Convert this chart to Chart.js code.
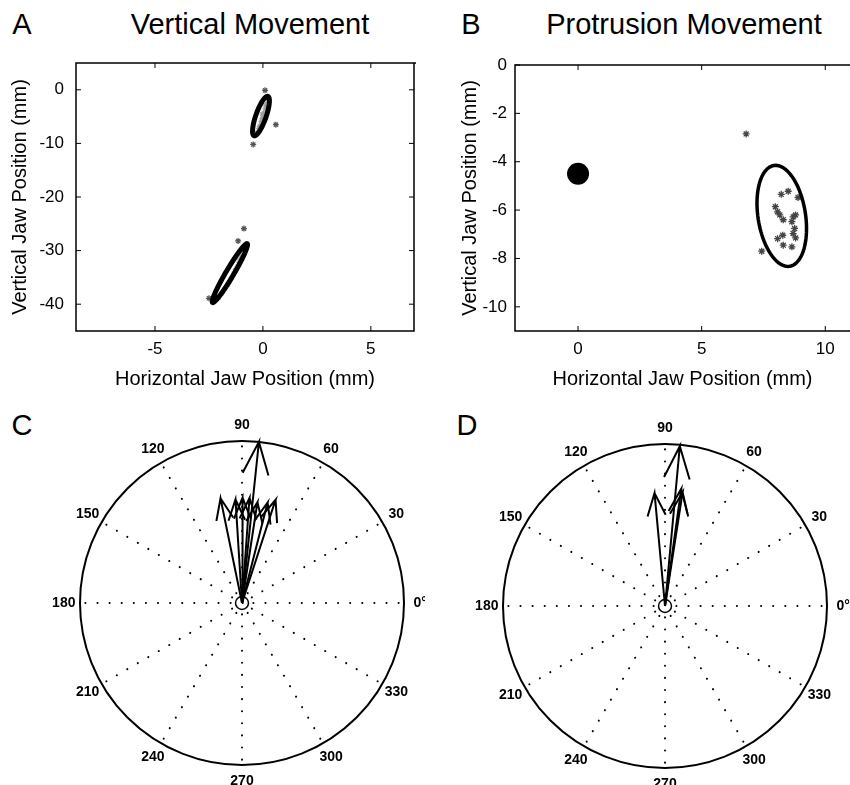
<!DOCTYPE html>
<html>
<head>
<meta charset="utf-8">
<script src="https://cdn.jsdelivr.net/npm/chart.js@4.4.0/dist/chart.umd.min.js"></script>
<style>
body { margin: 0; background: #fff; overflow: hidden; }
#fig { position: relative; width: 850px; height: 785px; overflow: hidden; font-family: "Liberation Sans", Arial, sans-serif; color: #000; }
canvas { position: absolute; }
.txt { position: absolute; transform: translate(-50%, -50%); white-space: nowrap; line-height: 1; font-size: 29px; }
</style>
</head>
<body>
<div id="fig">
  <div class="txt" style="left:22px;top:24px">A</div>
  <div class="txt" style="left:250px;top:24px">Vertical Movement</div>
  <div class="txt" style="left:471px;top:24px">B</div>
  <div class="txt" style="left:684px;top:24px">Protrusion Movement</div>
  <div class="txt" style="left:22px;top:425px">C</div>
  <div class="txt" style="left:467px;top:425px">D</div>
  <canvas id="chartA" width="425" height="350" style="left:0;top:50px"></canvas>
  <!-- B is a bit wider than its half: the big dot makes chart.js keep 11px free on the right -->
  <canvas id="chartB" width="436" height="350" style="left:425px;top:50px"></canvas>
  <canvas id="chartC" width="425" height="385" style="left:0;top:400px"></canvas>
  <canvas id="chartD" width="425" height="385" style="left:425px;top:400px"></canvas>
</div>
<script>
const FONT = '"Liberation Sans", Arial, sans-serif';

// A: vertical movement, jaw positions (mm)
const aInnerX = [0.22, 0.18, 0.12, 0.08, 0.03, -0.02, -0.06, -0.1, -0.15, -0.2, -0.26, -0.3, 0.14, -0.04, -0.17];
const aInnerY = [-1.8, -2.6, -3.0, -3.6, -4.3, -4.9, -5.4, -5.9, -6.6, -7.2, -7.8, -8.3, -2.9, -4.5, -6.9];
const aInner2X = [-0.9, -1.0, -1.08, -1.2, -1.3, -1.35, -1.45, -1.55, -1.62, -1.75, -1.9, -2.05, -1.12, -1.5];
const aInner2Y = [-30.0, -31.0, -31.6, -33.0, -33.6, -34.2, -35.0, -35.8, -36.4, -37.1, -38.0, -38.8, -32.2, -35.4];
const aOutX = [0.1, 0.6, -0.45, -0.88, -1.15, -2.5];
const aOutY = [-0.1, -6.5, -10.2, -25.9, -28.2, -38.9];
// A ellipses: centre, half major axis, half width along x
const aEllCx = [-0.09, -1.53];
const aEllCy = [-4.9, -34.2];
const aEllDx = [0.3, 0.79];
const aEllDy = [3.68, 5.5];
const aEllW = [0.25, 0.21];
const aTicksX = [-5, 0, 5];
const aTicksY = [0, -10, -20, -30, -40];

// B: protrusion movement
const bRefX = [0];
const bRefY = [-4.5];
const bPtsX = [8.22, 8.5, 8.9, 7.98, 8.07, 8.16, 8.3, 8.7, 8.8, 8.65, 8.76, 8.28, 8.07, 8.3, 8.7, 8.8, 8.65, 7.43, 6.8];
const bPtsY = [-5.35, -5.22, -5.48, -5.86, -6.07, -6.2, -6.4, -6.28, -6.2, -6.48, -6.76, -7.04, -7.18, -7.45, -6.97, -7.15, -7.52, -7.7, -2.85];
const bEllCx = [8.24];
const bEllCy = [-6.24];
const bEllDx = [-0.25];
const bEllDy = [2.09];
const bEllW = [0.97];
const bTicksX = [0, 5, 10];
const bTicksY = [0, -2, -4, -6, -8, -10];

// C, D: compass plots (angle in degrees, normalised length)
const cAngles = [84, 101.6, 93.6, 89.7, 85.9, 81.3, 75.7, 72];
const cLengths = [1.0, 0.66, 0.64, 0.65, 0.65, 0.63, 0.64, 0.67];
const dAngles = [84.7, 95.3, 82.1, 81.2];
const dLengths = [0.99, 0.7, 0.73, 0.71];
const polarAngles = [0, 30, 60, 90, 120, 150, 180, 210, 240, 270, 300, 330];
const polarLabels = ['0°', '30', '60', '90', '120', '150', '180', '210', '240', '270', '300', '330'];

function toPoints(xs, ys) {
  return xs.map((x, i) => ({ x: x, y: ys[i] }));
}

// box with inward ticks, matlab style
function framePlugin(openRight) {
  return {
    id: 'frame',
    afterDatasetsDraw(chart) {
      const { ctx, chartArea: a, scales: { x, y } } = chart;
      ctx.save();
      ctx.strokeStyle = '#000';
      ctx.lineWidth = 1.5;
      ctx.beginPath();
      ctx.moveTo(a.right + 2, a.top);
      ctx.lineTo(a.left, a.top);
      ctx.lineTo(a.left, a.bottom);
      ctx.lineTo(a.right, a.bottom);
      if (!openRight) ctx.lineTo(a.right, a.top);
      ctx.stroke();
      ctx.lineWidth = 1;
      ctx.beginPath();
      x.ticks.forEach(t => {
        const px = x.getPixelForValue(t.value);
        ctx.moveTo(px, a.bottom); ctx.lineTo(px, a.bottom - 5);
        ctx.moveTo(px, a.top); ctx.lineTo(px, a.top + 5);
      });
      y.ticks.forEach(t => {
        const py = y.getPixelForValue(t.value);
        ctx.moveTo(a.left, py); ctx.lineTo(a.left + 5, py);
        if (!openRight) { ctx.moveTo(a.right, py); ctx.lineTo(a.right - 5, py); }
      });
      ctx.stroke();
      ctx.restore();
    }
  };
}

function ellipsePlugin(cxs, cys, dxs, dys, ws, lw) {
  return {
    id: 'ellipses',
    afterDatasetsDraw(chart) {
      const { ctx, scales: { x, y } } = chart;
      ctx.save();
      ctx.strokeStyle = '#000';
      ctx.lineWidth = lw;
      cxs.forEach((cx, i) => {
        const c0 = x.getPixelForValue(cx), c1 = y.getPixelForValue(cys[i]);
        const a0 = x.getPixelForValue(cx + dxs[i]) - c0, a1 = y.getPixelForValue(cys[i] + dys[i]) - c1;
        const b0 = x.getPixelForValue(cx + ws[i]) - c0;
        ctx.beginPath();
        for (let k = 0; k <= 96; k++) {
          const t = k / 96 * 2 * Math.PI;
          const px = c0 + a0 * Math.cos(t) + b0 * Math.sin(t);
          const py = c1 + a1 * Math.cos(t);
          if (k === 0) ctx.moveTo(px, py); else ctx.lineTo(px, py);
        }
        ctx.closePath();
        ctx.stroke();
      });
      ctx.restore();
    }
  };
}

function axisOpts(min, max, ticks, title, fitSize, tickPad, titlePad, horizontal) {
  return {
    type: 'linear',
    min: min,
    max: max,
    grid: { display: false, drawTicks: false },
    border: { display: false },
    afterBuildTicks: s => { s.ticks = ticks.map(v => ({ value: v })); },
    afterFit: s => {
      if (horizontal) s.height = fitSize; else s.width = fitSize;
      // no extra room for edge labels, the plot box is placed by layout padding
      s.paddingTop = 0; s.paddingBottom = 0; s.paddingLeft = 0; s.paddingRight = 0;
    },
    ticks: { color: '#000', padding: tickPad, font: { family: FONT, size: 17 } },
    title: { display: true, text: title, color: '#000', font: { family: FONT, size: 20 }, padding: titlePad }
  };
}

function scatterChart(id, datasets, xAxis, yAxis, padding, plugins) {
  return new Chart(document.getElementById(id), {
    type: 'scatter',
    data: { datasets: datasets },
    options: {
      responsive: false,
      animation: false,
      layout: { padding: padding },
      plugins: { legend: { display: false }, tooltip: { enabled: false } },
      scales: { x: xAxis, y: yAxis }
    },
    plugins: plugins
  });
}

// panel A
scatterChart('chartA', [
  { data: toPoints(aInnerX, aInnerY), pointStyle: 'star', pointRadius: 2.5, borderColor: '#9a9a9a', borderWidth: 1 },
  { data: toPoints(aInner2X, aInner2Y), pointStyle: 'star', pointRadius: 2.5, borderColor: '#9a9a9a', borderWidth: 1 },
  { data: toPoints(aOutX, aOutY), pointStyle: 'star', pointRadius: 3, borderColor: '#555', borderWidth: 1.2 }
],
  axisOpts(-8.66, 7, aTicksX, 'Horizontal Jaw Position (mm)', 69, 8, { bottom: 9 }, true),
  axisOpts(-45, 5, aTicksY, 'Vertical Jaw Position (mm)', 76, 12, { top: 8 }, false),
  { left: 0, right: 11, top: 13, bottom: 0 },
  [framePlugin(false), ellipsePlugin(aEllCx, aEllCy, aEllDx, aEllDy, aEllW, 5)]
);

// panel B
scatterChart('chartB', [
  { data: toPoints(bRefX, bRefY), pointStyle: 'circle', pointRadius: 11, backgroundColor: '#000', borderColor: '#000', borderWidth: 0 },
  { data: toPoints(bPtsX, bPtsY), pointStyle: 'star', pointRadius: 3.5, borderColor: '#444', borderWidth: 1.3 }
],
  axisOpts(-2.55, 11, bTicksX, 'Horizontal Jaw Position (mm)', 69, 8, { bottom: 9 }, true),
  axisOpts(-11, 0, bTicksY, 'Vertical Jaw Position (mm)', 90, 8, { top: 33 }, false),
  { left: 0, right: 0, top: 15, bottom: 0 },
  [framePlugin(true), ellipsePlugin(bEllCx, bEllCy, bEllDx, bEllDy, bEllW, 3.5)]
);

// compass arrow shape, as in matlab compass()
function arrowPoints(angle, len) {
  const th = angle * Math.PI / 180, c = Math.cos(th), s = Math.sin(th);
  const shape = [[0, 0], [1, 0], [0.8, 0.08], [1, 0], [0.8, -0.08]];
  return shape.map(([u, v]) => ({ x: len * (u * c - v * s), y: len * (u * s + v * c) }));
}

const polarGrid = {
  id: 'polarGrid',
  beforeDatasetsDraw(chart) {
    const { ctx, scales: { x, y } } = chart;
    const cx = x.getPixelForValue(0), cy = y.getPixelForValue(0);
    const r = x.getPixelForValue(1) - cx;
    ctx.save();
    ctx.strokeStyle = '#000';
    // dotted spokes
    ctx.lineWidth = 2;
    ctx.lineCap = 'round';
    ctx.setLineDash([0.1, 12]);
    polarAngles.forEach(a => {
      const th = a * Math.PI / 180;
      ctx.beginPath();
      ctx.moveTo(cx + 0.07 * r * Math.cos(th), cy - 0.07 * r * Math.sin(th));
      ctx.lineTo(cx + 0.98 * r * Math.cos(th), cy - 0.98 * r * Math.sin(th));
      ctx.stroke();
    });
    ctx.setLineDash([]);
    ctx.lineCap = 'butt';
    // outer circle and centre circle
    ctx.lineWidth = 2;
    ctx.beginPath();
    ctx.arc(cx, cy, r, 0, 2 * Math.PI);
    ctx.stroke();
    ctx.lineWidth = 1.5;
    ctx.beginPath();
    ctx.arc(cx, cy, 0.04 * r, 0, 2 * Math.PI);
    ctx.stroke();
    // angle labels
    ctx.fillStyle = '#000';
    ctx.font = 'bold 14px ' + FONT;
    ctx.textAlign = 'center';
    ctx.textBaseline = 'middle';
    polarAngles.forEach((a, i) => {
      const th = a * Math.PI / 180;
      ctx.fillText(polarLabels[i], cx + 1.1 * r * Math.cos(th), cy - 1.1 * r * Math.sin(th));
    });
    ctx.restore();
  }
};

function compassChart(id, angles, lengths, padding) {
  const datasets = angles.map((a, i) => ({
    data: arrowPoints(a, lengths[i]),
    showLine: true,
    borderColor: '#000',
    borderWidth: 2,
    pointRadius: 0,
    clip: false
  }));
  const hidden = { type: 'linear', min: -1, max: 1, display: false };
  return new Chart(document.getElementById(id), {
    type: 'scatter',
    data: { datasets: datasets },
    options: {
      responsive: false,
      animation: false,
      layout: { padding: padding },
      plugins: { legend: { display: false }, tooltip: { enabled: false } },
      scales: { x: hidden, y: hidden }
    },
    plugins: [polarGrid]
  });
}

compassChart('chartC', cAngles, cLengths, { left: 80, right: 21, top: 41, bottom: 20 });
compassChart('chartD', dAngles, dLengths, { left: 78, right: 23, top: 44, bottom: 17 });
</script>
</body>
</html>
